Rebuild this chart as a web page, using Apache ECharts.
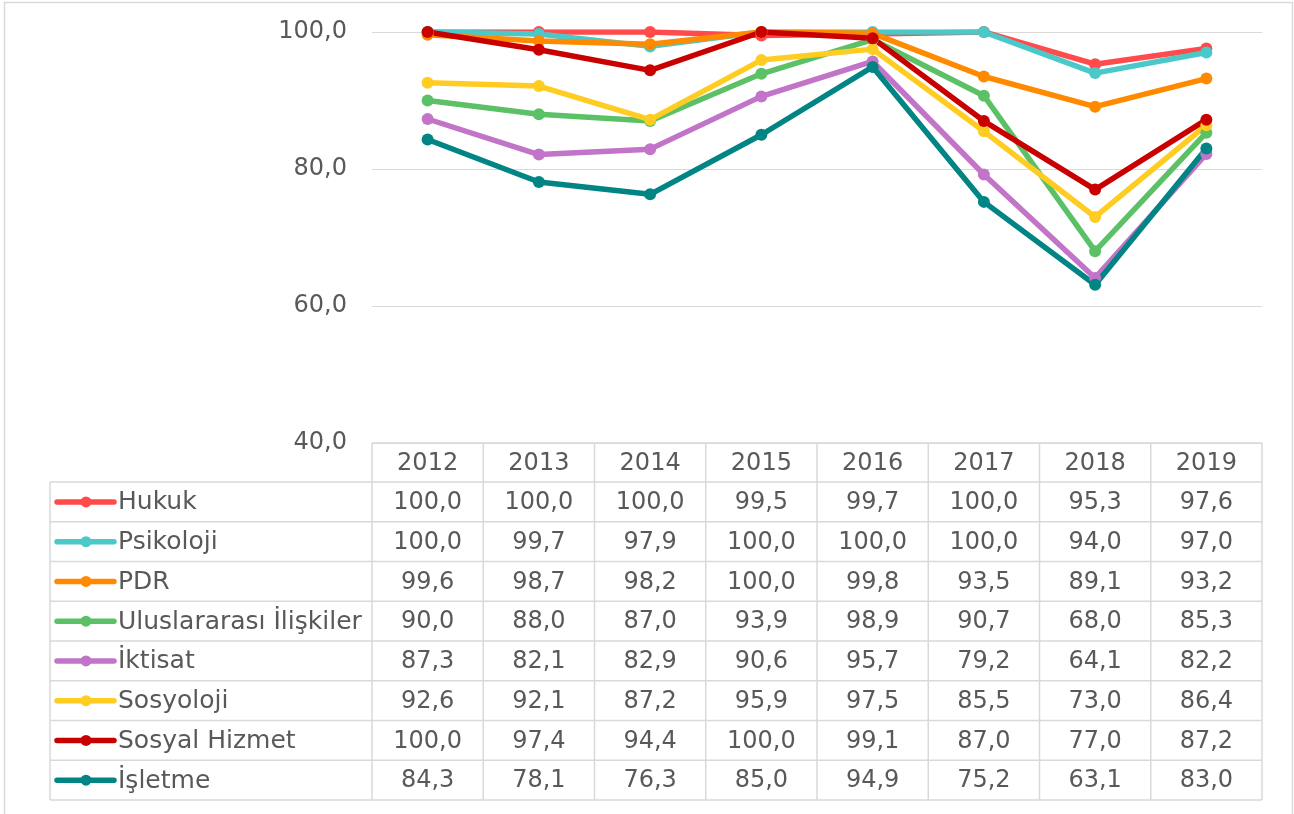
<!DOCTYPE html>
<html>
<head>
<meta charset="utf-8">
<script src="https://cdn.jsdelivr.net/npm/echarts@6/dist/echarts.min.js"></script>
<style>
  html, body { margin: 0; padding: 0; background: #fff; }
  #chart { width: 1294px; height: 814px; }
</style>
</head>
<body>
<div id="chart"></div>
<script>
const years = ['2012', '2013', '2014', '2015', '2016', '2017', '2018', '2019'];
const seriesNames = ['Hukuk', 'Psikoloji', 'PDR', 'Uluslararası İlişkiler', 'İktisat', 'Sosyoloji', 'Sosyal Hizmet', 'İşletme'];
const hukuk = [100.0, 100.0, 100.0, 99.5, 99.7, 100.0, 95.3, 97.6];
const psikoloji = [100.0, 99.7, 97.9, 100.0, 100.0, 100.0, 94.0, 97.0];
const pdr = [99.6, 98.7, 98.2, 100.0, 99.8, 93.5, 89.1, 93.2];
const uluslararasi = [90.0, 88.0, 87.0, 93.9, 98.9, 90.7, 68.0, 85.3];
const iktisat = [87.3, 82.1, 82.9, 90.6, 95.7, 79.2, 64.1, 82.2];
const sosyoloji = [92.6, 92.1, 87.2, 95.9, 97.5, 85.5, 73.0, 86.4];
const sosyalHizmet = [100.0, 97.4, 94.4, 100.0, 99.1, 87.0, 77.0, 87.2];
const isletme = [84.3, 78.1, 76.3, 85.0, 94.9, 75.2, 63.1, 83.0];
const colors = ['#FF4B4B', '#4BC8C8', '#FF8A00', '#5CC066', '#C174C8', '#FFCC22', '#C80000', '#008484'];
const allData = [hukuk, psikoloji, pdr, uluslararasi, iktisat, sosyoloji, sosyalHizmet, isletme];

const textColor = '#595959';
const borderColor = '#d9d9d9';
const font = 'DejaVu Sans, Verdana, sans-serif';
const fontSize = 24;

const chart = echarts.init(document.getElementById('chart'));

const fmt = v => v.toFixed(1).replace('.', ',');

chart.setOption({
  animation: false,
  grid: { left: 372, right: 32, top: 32, bottom: 371 },
  xAxis: {
    type: 'category',
    data: years,
    boundaryGap: true,
    axisLine: { show: false },
    axisTick: { show: false },
    axisLabel: { show: false }
  },
  yAxis: {
    type: 'value',
    min: 40,
    max: 100,
    interval: 20,
    axisLine: { show: false },
    axisTick: { show: false },
    axisLabel: {
      color: textColor,
      fontFamily: font,
      fontSize: fontSize,
      margin: 25,
      formatter: v => fmt(v)
    },
    splitLine: { lineStyle: { color: borderColor, width: 1 } }
  },
  series: seriesNames.map((name, i) => ({
    name: name,
    type: 'line',
    data: allData[i],
    symbol: 'circle',
    symbolSize: 12,
    lineStyle: { color: colors[i], width: 5.5 },
    itemStyle: { color: colors[i] }
  }))
});

// tablo
const tableLeft = 50;
const plotLeft = 372;
const plotRight = 1262;
const headerTop = 443;
const rowH = 39.75;
const bodyTop = 482;
const colW = (plotRight - plotLeft) / years.length;

const g = [];
g.push({ type: 'rect', shape: { x: 4.5, y: 2.5, width: 1288, height: 830 }, style: { fill: null, stroke: borderColor, lineWidth: 1.5 }, silent: true });

const line = (x1, y1, x2, y2) => g.push({
  type: 'line', shape: { x1, y1, x2, y2 }, style: { stroke: borderColor, lineWidth: 1.5 }, silent: true
});
const bottom = bodyTop + rowH * seriesNames.length;
line(plotLeft, headerTop, plotRight, headerTop);
for (let r = 0; r <= seriesNames.length; r++) {
  line(tableLeft, bodyTop + r * rowH, plotRight, bodyTop + r * rowH);
}
line(tableLeft, bodyTop, tableLeft, bottom);
for (let c = 0; c <= years.length; c++) {
  line(plotLeft + c * colW, headerTop, plotLeft + c * colW, bottom);
}

const txt = (s, x, y, align, size) => g.push({
  type: 'text', x, y, silent: true,
  style: { text: s, fill: textColor, font: (size || fontSize) + 'px ' + font, textAlign: align, textVerticalAlign: 'middle' }
});

years.forEach((yr, c) => {
  const cx = chart.convertToPixel({ xAxisIndex: 0 }, yr);
  txt(yr, cx, headerTop + rowH / 2 + 1, 'center');
  allData.forEach((arr, r) => {
    txt(fmt(arr[c]), cx, bodyTop + r * rowH + rowH / 2 + 1, 'center');
  });
});

seriesNames.forEach((name, r) => {
  const cy = bodyTop + r * rowH + rowH / 2;
  g.push({ type: 'line', shape: { x1: 57, y1: cy, x2: 114, y2: cy }, style: { stroke: colors[r], lineWidth: 5.5, lineCap: 'round' }, silent: true });
  g.push({ type: 'circle', shape: { cx: 86, cy: cy, r: 5.5 }, style: { fill: colors[r] }, silent: true });
  txt(name, 118, cy + 1, 'left', 25);
});

chart.setOption({ graphic: g });
</script>
</body>
</html>
